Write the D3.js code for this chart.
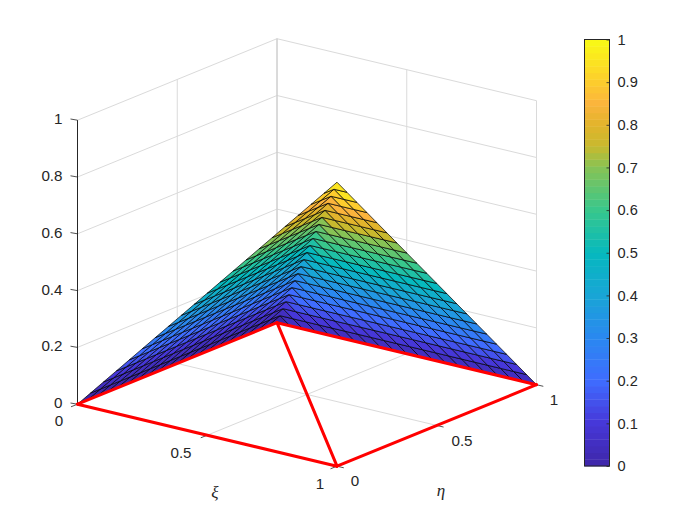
<!DOCTYPE html>
<html><head><meta charset="utf-8">
<script src="https://cdn.jsdelivr.net/npm/d3@7"></script>
<style>html,body{margin:0;background:#fff}text{font-family:"Liberation Sans",Arial,sans-serif;fill:#262626}</style>
</head><body><svg id="c" width="700" height="525"></svg>
<script>
const xiNodes=[0,.05,.1,.15,.2,.25,.3,.35,.4,.45,.5,.55,.6,.65,.7,.75,.8,.85,.9,.95,1];
const etaNodes=[0,.05,.1,.15,.2,.25,.3,.35,.4,.45,.5,.55,.6,.65,.7,.75,.8,.85,.9,.95,1];
// surface height: one row per eta node, one column per xi node
const zRows=[
[0,.05,.1,.15,.2,.25,.3,.35,.4,.45,.5,.55,.6,.65,.7,.75,.8,.85,.9,.95,1],
[0,.05,.1,.15,.2,.25,.3,.35,.4,.45,.5,.55,.6,.65,.7,.75,.8,.85,.9,.95,.95],
[0,.05,.1,.15,.2,.25,.3,.35,.4,.45,.5,.55,.6,.65,.7,.75,.8,.85,.9,.9,.9],
[0,.05,.1,.15,.2,.25,.3,.35,.4,.45,.5,.55,.6,.65,.7,.75,.8,.85,.85,.85,.85],
[0,.05,.1,.15,.2,.25,.3,.35,.4,.45,.5,.55,.6,.65,.7,.75,.8,.8,.8,.8,.8],
[0,.05,.1,.15,.2,.25,.3,.35,.4,.45,.5,.55,.6,.65,.7,.75,.75,.75,.75,.75,.75],
[0,.05,.1,.15,.2,.25,.3,.35,.4,.45,.5,.55,.6,.65,.7,.7,.7,.7,.7,.7,.7],
[0,.05,.1,.15,.2,.25,.3,.35,.4,.45,.5,.55,.6,.65,.65,.65,.65,.65,.65,.65,.65],
[0,.05,.1,.15,.2,.25,.3,.35,.4,.45,.5,.55,.6,.6,.6,.6,.6,.6,.6,.6,.6],
[0,.05,.1,.15,.2,.25,.3,.35,.4,.45,.5,.55,.55,.55,.55,.55,.55,.55,.55,.55,.55],
[0,.05,.1,.15,.2,.25,.3,.35,.4,.45,.5,.5,.5,.5,.5,.5,.5,.5,.5,.5,.5],
[0,.05,.1,.15,.2,.25,.3,.35,.4,.45,.45,.45,.45,.45,.45,.45,.45,.45,.45,.45,.45],
[0,.05,.1,.15,.2,.25,.3,.35,.4,.4,.4,.4,.4,.4,.4,.4,.4,.4,.4,.4,.4],
[0,.05,.1,.15,.2,.25,.3,.35,.35,.35,.35,.35,.35,.35,.35,.35,.35,.35,.35,.35,.35],
[0,.05,.1,.15,.2,.25,.3,.3,.3,.3,.3,.3,.3,.3,.3,.3,.3,.3,.3,.3,.3],
[0,.05,.1,.15,.2,.25,.25,.25,.25,.25,.25,.25,.25,.25,.25,.25,.25,.25,.25,.25,.25],
[0,.05,.1,.15,.2,.2,.2,.2,.2,.2,.2,.2,.2,.2,.2,.2,.2,.2,.2,.2,.2],
[0,.05,.1,.15,.15,.15,.15,.15,.15,.15,.15,.15,.15,.15,.15,.15,.15,.15,.15,.15,.15],
[0,.05,.1,.1,.1,.1,.1,.1,.1,.1,.1,.1,.1,.1,.1,.1,.1,.1,.1,.1,.1],
[0,.05,.05,.05,.05,.05,.05,.05,.05,.05,.05,.05,.05,.05,.05,.05,.05,.05,.05,.05,.05],
[0,0,0,0,0,0,0,0,0,0,0,0,0,0,0,0,0,0,0,0,0]
];
const zTicks=[0,.2,.4,.6,.8,1];
const xiTicks=[0,.5,1];
const etaTicks=[0,.5,1];
const cbTicks=[0,.1,.2,.3,.4,.5,.6,.7,.8,.9,1];
// [xi, eta] pairs joined by the red outline
const redEdges=[[[0,0],[1,0]],[[1,0],[1,1]],[[1,1],[0,1]],[[0,1],[0,0]],[[1,0],[0,1]]];
const cmapStops=[0,.1,.2,.3,.4,.5,.6,.7,.75,.8,.85,.9,1];
const cmapColors=["#3e26a8","#4637d8","#3f6cff","#2a88f0","#19a5d6","#06b9be","#38c78c","#87c355","#c8b92e","#e2b42c","#fbb43c","#fdcd2d","#f9fb15"];
const cbLevels=d3.range(0,64);

const svg=d3.select("#c");
const cmap=d3.scaleLinear().domain(cmapStops).range(cmapColors).interpolate(d3.interpolateRgb);
const xiX=d3.scaleLinear().domain([0,1]).range([0,259.5]);
const xiY=d3.scaleLinear().domain([0,1]).range([0,62]);
const etaX=d3.scaleLinear().domain([0,1]).range([0,199.5]);
const etaY=d3.scaleLinear().domain([0,1]).range([0,-81.5]);
const zY=d3.scaleLinear().domain([0,1]).range([0,-284]);
const P=(a,b,c)=>[77.5+xiX(a)+etaX(b),404.2+xiY(a)+etaY(b)+zY(c)];
const line=d3.line();

// grid
const gridColor="#dadada";
const g=svg.append("g").attr("fill","none").attr("stroke",gridColor).attr("stroke-width",1);
const seg=(par,a,b,col,w)=>par.append("path").attr("d",line([a,b])).attr("stroke",col||gridColor).attr("fill","none").attr("stroke-width",w||1);
zTicks.forEach(z=>{seg(g,P(0,0,z),P(0,1,z));seg(g,P(0,1,z),P(1,1,z));});
xiTicks.forEach(x=>{seg(g,P(x,1,0),P(x,1,1),x===0?"#b8b8b8":gridColor);seg(g,P(x,0,0),P(x,1,0));});
etaTicks.forEach(e=>{seg(g,P(0,e,0),P(0,e,1));seg(g,P(0,e,0),P(1,e,0));});

// axis lines + ticks
const ax=svg.append("g");
const axC="#262626";
seg(ax,P(0,0,0),P(0,0,1),axC,1);
seg(ax,P(0,0,0),P(1,0,0),axC,1);
seg(ax,P(1,0,0),P(1,1,0),axC,1);
zTicks.forEach(z=>{const p=P(0,0,z);seg(ax,p,[p[0]-7,p[1]-1.2],axC,.8);});
xiTicks.forEach(x=>{const p=P(x,0,0);seg(ax,p,[p[0]-6.5,p[1]+2.6],axC,.8);});
etaTicks.forEach(e=>{const p=P(1,e,0);seg(ax,p,[p[0]+6.8,p[1]+1.6],axC,.8);});

// surface, back to front
const cells=[];
d3.range(etaNodes.length-1).forEach(j=>d3.range(xiNodes.length-1).forEach(i=>{
  const pts=[[i,j],[i+1,j],[i+1,j+1],[i,j+1]].map(([a,b])=>P(xiNodes[a],etaNodes[b],zRows[b][a]));
  const d=xiY((xiNodes[i]+xiNodes[i+1])/2)+etaY((etaNodes[j]+etaNodes[j+1])/2);
  cells.push({pts,c:zRows[j][i],d});
}));
cells.sort((a,b)=>a.d-b.d);
svg.append("g").selectAll("path").data(cells).join("path")
  .attr("d",d=>line(d.pts)+"Z").attr("fill",d=>cmap(d.c))
  .attr("stroke","#000").attr("stroke-width",.7).attr("stroke-linejoin","round");

// red outline
svg.append("g").selectAll("path").data(redEdges).join("path")
  .attr("d",e=>line(e.map(([a,b])=>P(a,b,0))))
  .attr("stroke","#ff0000").attr("stroke-width",3).attr("fill","none").attr("stroke-linecap","round");

// tick labels
const fs=15.2;
const T=(x,y,s,anc)=>svg.append("text").attr("x",x).attr("y",y).attr("text-anchor",anc||"middle").attr("dominant-baseline","central").attr("font-size",fs).text(s);
zTicks.forEach(z=>T(62.5,P(0,0,z)[1]-1.5,String(z),"end"));
const xiLab=[[59,420.5],[181,452.5],[320,483.5]];
xiTicks.forEach((v,i)=>T(xiLab[i][0],xiLab[i][1],String(v)));
const etaLab=[[355,480.5],[462,440.5],[554,399]];
etaTicks.forEach((v,i)=>T(etaLab[i][0],etaLab[i][1],String(v)));
const greek=(x,y,s)=>svg.append("text").attr("x",x).attr("y",y).attr("text-anchor","middle").attr("dominant-baseline","central")
  .attr("font-size",17).attr("font-style","italic").style("font-family","'Liberation Serif',serif").text(s);
greek(215,492,"ξ");greek(441,490,"η");

// colorbar
const cbY=d3.scaleLinear().domain([0,1]).range([466,39.5]);
const cb=svg.append("g");
cb.selectAll("rect").data(cbLevels).join("rect")
  .attr("x",584.5).attr("width",25)
  .attr("y",k=>cbY((k+1)/64)).attr("height",k=>cbY(k/64)-cbY((k+1)/64)+.4)
  .attr("fill",k=>cmap((k+.5)/64));
cb.append("rect").attr("x",584.5).attr("y",39.5).attr("width",25).attr("height",426.5).attr("fill","none").attr("stroke",axC).attr("stroke-width",1);
const cbAxis=d3.axisRight(cbY).tickValues(cbTicks).tickSizeInner(-3).tickSizeOuter(0).tickPadding(8).tickFormat(d=>String(d));
const cba=svg.append("g").attr("transform","translate(609.5,0)").call(cbAxis);
cba.select(".domain").remove();
cba.selectAll("line").attr("stroke",axC).attr("stroke-width",.8);
cba.selectAll("text").attr("font-size",14.6).style("font-family","'Liberation Sans',Arial,sans-serif").attr("fill",axC).attr("dy",".32em");
</script></body></html>
